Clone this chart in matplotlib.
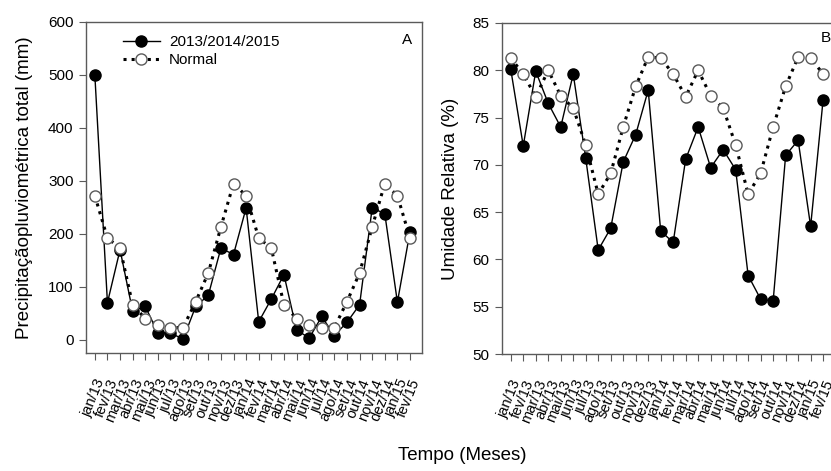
import numpy as np
import matplotlib.pyplot as plt

plt.rcParams['font.family'] = ['Liberation Sans', 'DejaVu Sans']

# meses jan/13 .. fev/15
meses = ['jan/13', 'fev/13', 'mar/13', 'abr/13', 'mai/13', 'jun/13', 'jul/13',
         'ago/13', 'set/13', 'out/13', 'nov/13', 'dez/13',
         'jan/14', 'fev/14', 'mar/14', 'abr/14', 'mai/14', 'jun/14', 'jul/14',
         'ago/14', 'set/14', 'out/14', 'nov/14', 'dez/14',
         'jan/15', 'fev/15']

# A - precipitacao (mm)
chuva = [500, 70, 170, 54, 63, 13, 13, 1, 63, 84, 173, 161,
         249, 34, 77, 123, 19, 3, 44, 8, 33, 66, 249, 238,
         71, 204]
chuva_normal = [272, 192, 173, 66, 40, 28, 23, 23, 72, 126, 213, 295,
                272, 192, 173, 66, 40, 28, 23, 23, 72, 126, 213, 295,
                272, 192]

# B - umidade relativa (%)
umidade = [80.1, 72.0, 79.9, 76.5, 74.0, 79.6, 70.7, 61.0, 63.3, 70.3, 73.2, 77.9,
           63.0, 61.8, 70.6, 74.0, 69.7, 71.6, 69.5, 58.3, 55.8, 55.6, 71.0, 72.6,
           63.5, 76.9]
umidade_normal = [81.3, 79.6, 77.2, 80.0, 77.3, 76.0, 72.1, 66.9, 69.1, 74.0, 78.3, 81.4,
                  81.3, 79.6, 77.2, 80.0, 77.3, 76.0, 72.1, 66.9, 69.1, 74.0, 78.3, 81.4,
                  81.3, 79.6]

x = np.arange(len(meses))
cinza = '#5a5a5a'

fig = plt.figure(figsize=(8.31, 4.71), dpi=100)
ax1 = fig.add_axes([0.1035, 0.2505, 0.4043, 0.7028])
ax2 = fig.add_axes([0.6041, 0.2484, 0.4007, 0.7028])


def desenha(ax, obs, normal, ylim, yticks):
    ax.plot(x, obs, '-', color='black', lw=1.0, marker='o', ms=8,
            mfc='black', mec='black', label='2013/2014/2015', zorder=3)
    ax.plot(x, normal, ':', color='black', lw=2.2, marker='o', ms=8,
            mfc='white', mec=cinza, mew=1.0, label='Normal', zorder=4)
    ax.set_xlim(-0.7, 25.95)
    ax.set_ylim(*ylim)
    ax.set_yticks(yticks)
    ax.set_xticks(x)
    ax.set_xticklabels(meses, rotation=68, ha='right', va='top',
                       rotation_mode='anchor', fontsize=10.5)
    ax.tick_params(axis='y', direction='out', length=5, color=cinza,
                   labelsize=11, pad=4)
    ax.tick_params(axis='x', direction='out', length=5, color=cinza, pad=12)
    for s in ax.spines.values():
        s.set_color(cinza)
        s.set_linewidth(1.0)


desenha(ax1, chuva, chuva_normal, (-25, 600), np.arange(0, 601, 100))
desenha(ax2, umidade, umidade_normal, (50, 85), np.arange(50, 86, 5))

ax1.set_ylabel('Precipitaçãopluviométrica total (mm)', fontsize=13.5, labelpad=11)
ax2.set_ylabel('Umidade Relativa (%)', fontsize=13.5, labelpad=10)

ax1.legend(loc='upper left', bbox_to_anchor=(0.11, 0.96), frameon=False,
           fontsize=11, borderpad=0, borderaxespad=0, handlelength=2.4,
           handletextpad=0.6, labelspacing=0.25)

fig.text(407 / 831, 1 - 40 / 471, 'A', ha='center', va='center', fontsize=11)
fig.text(826 / 831, 1 - 38 / 471, 'B', ha='center', va='center', fontsize=11)
fig.text(462 / 831, 1 - 456 / 471, 'Tempo (Meses)', ha='center', va='center',
         fontsize=13.5)

fig.savefig('out.png', dpi=100)
